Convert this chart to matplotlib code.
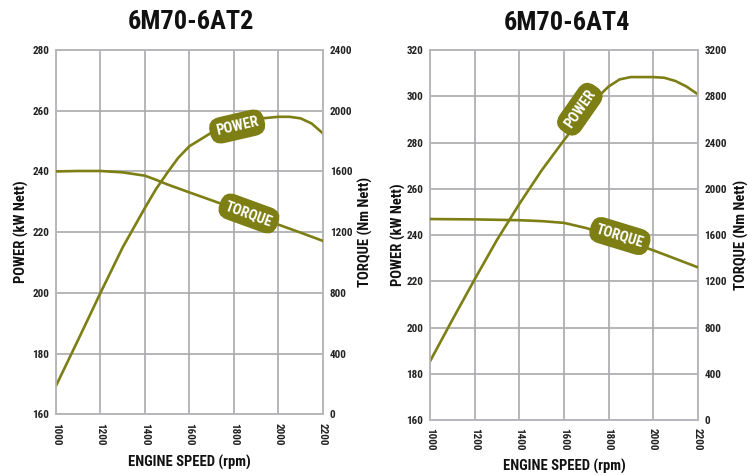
import matplotlib
matplotlib.use("Agg")
import matplotlib.pyplot as plt

plt.rcParams['font.family'] = ['Roboto Condensed', 'Liberation Sans Narrow', 'DejaVu Sans']
plt.rcParams['font.weight'] = 'bold'

OLIVE = '#7d7e14'
GRID = '#a9a9ad'

# --- data ---
rpm_a = [1000, 1100, 1200, 1300, 1400, 1450, 1500, 1550, 1600, 1700, 1800, 1900, 2000, 2050, 2100, 2150, 2200]
power_a = [169.4, 184.6, 200, 215, 228, 234.2, 239.5, 244.5, 248.3, 252.8, 255.6, 257.3, 258.0, 258.0, 257.5, 255.8, 252.6]
rpm_a_t = [1000, 1100, 1200, 1300, 1400, 1450, 1500, 1600, 1700, 1800, 1900, 2000, 2100, 2200]
torque_a = [1600, 1603, 1603, 1594, 1572, 1545, 1515, 1462, 1410, 1357, 1303, 1250, 1197, 1143]

rpm_b = [1000, 1100, 1200, 1300, 1400, 1500, 1600, 1700, 1750, 1800, 1850, 1900, 2000, 2050, 2100, 2150, 2200]
power_b = [185.6, 203.5, 221, 238, 253.5, 268, 281, 293.5, 299.5, 304.2, 307.3, 308.3, 308.3, 308.0, 306.6, 304.2, 300.9]
rpm_b_t = [1000, 1200, 1400, 1500, 1600, 1700, 1800, 1900, 2000, 2100, 2200]
torque_b = [1738, 1735, 1728, 1720, 1705, 1660, 1597, 1535, 1468, 1395, 1321]

x_ticks = [1000, 1200, 1400, 1600, 1800, 2000, 2200]

charts = [
    dict(title='6M70-6AT2', pos=[0.0743, 0.1278, 0.3537, 0.7669],
         rpm=rpm_a, power=power_a, rpm_t=rpm_a_t, torque=torque_a,
         pticks=list(range(160, 281, 20)), tticks=list(range(0, 2401, 400)),
         plabel=(1815, 254.8, 13), tlabel=(1868, 1323, -20),
         title_x=191, title_y=22, xl_x=189, xl_y=462, yl_x=21, yl2_x=365),
    dict(title='6M70-6AT4', pos=[0.5707, 0.1158, 0.3546, 0.7789],
         rpm=rpm_b, power=power_b, rpm_t=rpm_b_t, torque=torque_b,
         pticks=list(range(160, 321, 20)), tticks=list(range(0, 3201, 400)),
         plabel=(1671, 294.4, 55), tlabel=(1851, 1591, -17),
         title_x=567, title_y=23, xl_x=564, xl_y=466, yl_x=398, yl2_x=741),
]

fig = plt.figure(figsize=(7.54, 4.75), dpi=100)
W, H = 754, 475

for c in charts:
    ax = fig.add_axes(c['pos'])
    ax2 = ax.twinx()
    ax.set_xlim(1000, 2200)
    ax.set_ylim(c['pticks'][0], c['pticks'][-1])
    ax2.set_ylim(c['tticks'][0], c['tticks'][-1])
    ax.set_xticks(x_ticks)
    ax.set_yticks(c['pticks'])
    ax2.set_yticks(c['tticks'])
    ax.grid(True, color=GRID, lw=1.2)
    ax.set_axisbelow(True)
    for a in (ax, ax2):
        for s in a.spines.values():
            s.set_color('#b8b8bc')
            s.set_linewidth(1.2)
        a.tick_params(length=0, labelsize=8, colors='#222222')
    ax.tick_params(axis='y', pad=5)
    ax2.tick_params(axis='y', pad=5)
    ax.tick_params(axis='x', pad=6)
    for lab in ax.get_xticklabels():
        lab.set_rotation(270)
        lab.set_va('top')
        lab.set_ha('center')

    ax.plot(c['rpm'], c['power'], color=OLIVE, lw=1.9, zorder=3)
    ax2.plot(c['rpm_t'], c['torque'], color=OLIVE, lw=1.9, zorder=3)

    # pill shaped curve labels
    box = dict(boxstyle='round,pad=0.38,rounding_size=0.75', fc=OLIVE, ec=OLIVE)
    px, py, pr = c['plabel']
    ax.text(px, py, 'POWER', color='white', fontsize=10.5, fontweight='bold',
            rotation=pr, rotation_mode='anchor', ha='center', va='center', bbox=box, zorder=5)
    tx, ty, tr = c['tlabel']
    ax2.text(tx, ty, 'TORQUE', color='white', fontsize=10.5, fontweight='bold',
             rotation=tr, rotation_mode='anchor', ha='center', va='center', bbox=box, zorder=5)

    fig.text(c['title_x'] / W, 1 - c['title_y'] / H, c['title'], fontsize=19,
             fontweight='bold', ha='center', va='center', color='#111111')
    fig.text(c['xl_x'] / W, 1 - c['xl_y'] / H, 'ENGINE SPEED (rpm)', fontsize=10.5,
             fontweight='bold', ha='center', va='center', color='#111111')
    ymid = c['pos'][1] + c['pos'][3] / 2
    fig.text(c['yl_x'] / W, ymid, 'POWER (kW Nett)', fontsize=10.5,
             fontweight='bold', ha='center', va='center', rotation=90, color='#111111')
    fig.text(c['yl2_x'] / W, ymid, 'TORQUE (Nm Nett)', fontsize=10.5,
             fontweight='bold', ha='center', va='center', rotation=90, color='#111111')

fig.savefig('out.png', dpi=100)
